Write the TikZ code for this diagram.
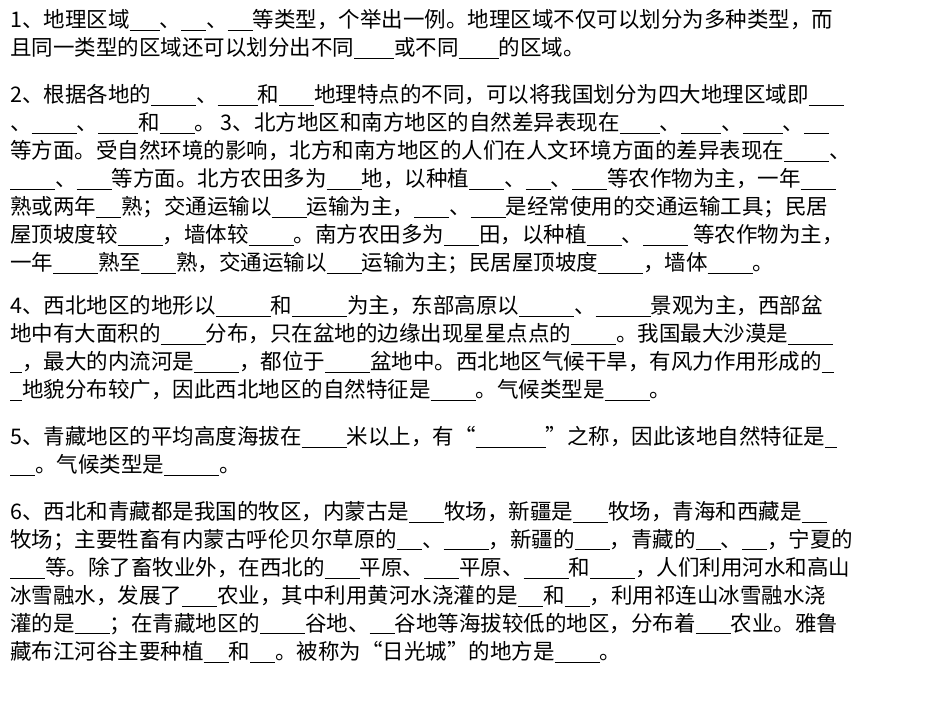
\documentclass[tikz,border=0pt]{standalone}
\usepackage{fontspec}
\setmainfont{Noto Sans CJK SC}
\usepackage{tikz}
\usetikzlibrary{positioning}
\newcommand{\bl}[1][32pt]{\rule[-3pt]{#1}{0.9pt}}
\tikzset{line/.style={anchor=west, inner sep=0pt, font=\fontsize{21.5}{22}\selectfont}}
\begin{document}
\begin{tikzpicture}[x=1pt,y=-1pt]
    \useasboundingbox (0,0) rectangle (950,713);
    \node [line] (l1) at (10,20) {1、地理区域\bl[30pt]、\bl[25pt]、\bl[25pt]等类型，个举出一例。地理区域不仅可以划分为多种类型，而};
    \node [line] (l2) at (10,48) {且同一类型的区域还可以划分出不同\bl[40pt]或不同\bl[40pt]的区域。};
    \node [line] (l3) at (10,95) {2、根据各地的\bl[45pt]、\bl[40pt]和\bl[35pt]地理特点的不同，可以将我国划分为四大地理区域即\bl[35pt]};
    \node [line] (l4) at (10,123) {、\bl[45pt]、\bl[40pt]和\bl[35pt]。 3、北方地区和南方地区的自然差异表现在\bl[40pt]、\bl[40pt]、\bl[40pt]、\bl[25pt]};
    \node [line] (l5) at (10,151) {等方面。受自然环境的影响，北方和南方地区的人们在人文环境方面的差异表现在\bl[45pt]、};
    \node [line] (l6) at (10,179) {\bl[45pt]、\bl[35pt]等方面。北方农田多为\bl[35pt]地，以种植\bl[35pt]、\bl[25pt]、\bl[35pt]等农作物为主，一年\bl[35pt]};
    \node [line] (l7) at (10,207) {熟或两年\bl[25pt]熟；交通运输以\bl[35pt]运输为主，\bl[35pt]、\bl[35pt]是经常使用的交通运输工具；民居};
    \node [line] (l8) at (10,235) {屋顶坡度较\bl[45pt]，墙体较\bl[45pt]。南方农田多为\bl[35pt]田，以种植\bl[35pt]、\bl[45pt] 等农作物为主，};
    \node [line] (l9) at (10,263) {一年\bl[45pt]熟至\bl[35pt]熟，交通运输以\bl[35pt]运输为主；民居屋顶坡度\bl[45pt]，墙体\bl[45pt]。};
    \node [line] (l10) at (10,306) {4、西北地区的地形以\bl[55pt]和\bl[55pt]为主，东部高原以\bl[55pt]、\bl[55pt]景观为主，西部盆};
    \node [line] (l11) at (10,334) {地中有大面积的\bl[45pt]分布，只在盆地的边缘出现星星点点的\bl[45pt]。我国最大沙漠是\bl[45pt]};
    \node [line] (l12) at (10,362) {\bl[12pt]，最大的内流河是\bl[45pt]，都位于\bl[45pt]盆地中。西北地区气候干旱，有风力作用形成的\bl[12pt]};
    \node [line] (l13) at (10,390) {\bl[12pt]地貌分布较广，因此西北地区的自然特征是\bl[45pt]。气候类型是\bl[45pt]。};
    \node [line] (l14) at (10,437) {5、青藏地区的平均高度海拔在\bl[45pt]米以上，有“\bl[70pt]”之称，因此该地自然特征是\bl[12pt]};
    \node [line] (l15) at (10,465) {\bl[25pt]。气候类型是\bl[55pt]。};
    \node [line] (l16) at (10,512) {6、西北和青藏都是我国的牧区，内蒙古是\bl[35pt]牧场，新疆是\bl[35pt]牧场，青海和西藏是\bl[25pt]};
    \node [line] (l17) at (10,540) {牧场；主要牲畜有内蒙古呼伦贝尔草原的\bl[25pt]、\bl[45pt]，新疆的\bl[35pt]，青藏的\bl[25pt]、\bl[25pt]，宁夏的};
    \node [line] (l18) at (10,568) {\bl[35pt]等。除了畜牧业外，在西北的\bl[35pt]平原、\bl[35pt]平原、\bl[45pt]和\bl[45pt]，人们利用河水和高山};
    \node [line] (l19) at (10,596) {冰雪融水，发展了\bl[35pt]农业，其中利用黄河水浇灌的是\bl[25pt]和\bl[25pt]，利用祁连山冰雪融水浇};
    \node [line] (l20) at (10,624) {灌的是\bl[35pt]；在青藏地区的\bl[45pt]谷地、\bl[25pt]谷地等海拔较低的地区，分布着\bl[35pt]农业。雅鲁};
    \node [line] (l21) at (10,652) {藏布江河谷主要种植\bl[25pt]和\bl[25pt]。被称为“日光城”的地方是\bl[45pt]。};
\end{tikzpicture}
\end{document}
